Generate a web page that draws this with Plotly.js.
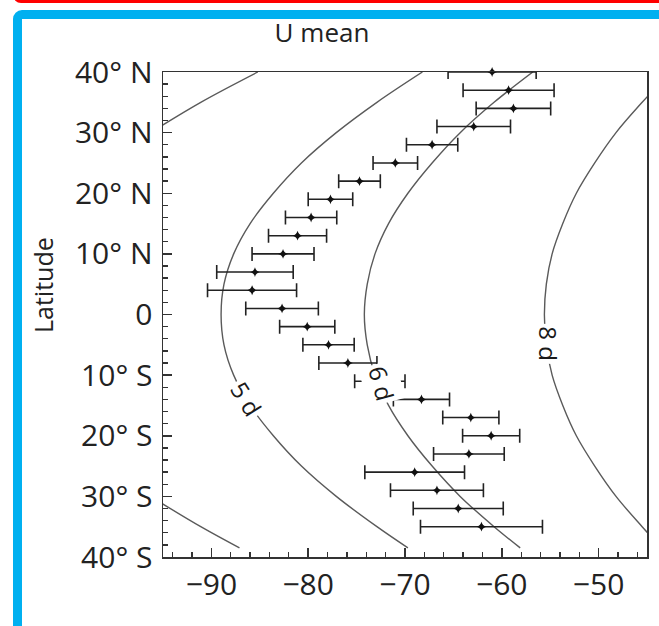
<!DOCTYPE html>
<html><head><meta charset="utf-8">
<script src="https://cdn.plot.ly/plotly-3.0.1.min.js"></script>
<style>
html,body{margin:0;padding:0;background:#fff;width:659px;height:626px;overflow:hidden;}
#redframe{position:absolute;left:13px;top:-20px;width:700px;height:17px;border:3px solid #ff0000;border-radius:8px;}
#blueframe{position:absolute;left:13px;top:10px;width:700px;height:700px;border:9px solid #00b0f0;border-radius:9px;}
#chart{position:absolute;left:0;top:0;width:659px;height:626px;}
</style></head><body>
<div id="redframe"></div><div id="blueframe"></div><div id="chart"></div>
<script>
// Observed mean zonal wind (m/s) by latitude, with error half-widths
const latitudes = [40,37,34,31,28,25,22,19,16,13,10,7,4,1,-2,-5,-8,-11,-14,-17,-20,-23,-26,-29,-32,-35];
const uMean = [-61.0,-59.3,-58.8,-62.9,-67.2,-71.0,-74.7,-77.7,-79.7,-81.1,-82.6,-85.5,-85.8,-82.7,-80.1,-77.9,-75.9,-72.6,-68.3,-63.2,-61.1,-63.4,-69.0,-66.7,-64.5,-62.1];
const uError = [4.55,4.7,3.85,3.8,2.65,2.3,2.15,2.3,2.65,3.0,3.2,3.95,4.6,3.75,2.85,2.65,3.0,2.6,2.9,2.9,2.95,3.65,5.15,4.8,4.65,6.3];

// Rotation-period reference curves
const curveLat = [40,35,30,25,20,15,10,5,0,-5,-10,-15,-20,-25,-30,-35,-38.5];
const curve4d = [-85.2,-91.1,-96.3,null,null,null,null,null,null,null,null,null,null,null,-96.3,-91.1,-87.1];
const curve5d = [-68.2,-72.9,-77.1,-80.7,-83.6,-86.0,-87.7,-88.7,-89.0,-88.7,-87.7,-86.0,-83.6,-80.7,-77.1,-72.9,-69.7];
const curve6d = [-56.8,-60.8,-64.3,-67.2,-69.7,-71.7,-73.1,-73.9,-74.2,-73.9,-73.1,-71.7,-69.7,-67.2,-64.3,-60.8,-58.1];
const curve8d = [-42.6,-45.5,-48.2,-50.4,-52.3,-53.7,-54.8,-55.4,-55.6,-55.4,-54.8,-53.7,-52.3,-50.4,-48.2,-45.5,-43.5];

const curveLabels = ['5 d','6 d','8 d'];
const labelU = [-86.4,-72.4,-55.2];
const labelLat = [-13.9,-11.4,-4.8];
const labelAngle = [58,75,90];

const yTickVals = [40,30,20,10,0,-10,-20,-30,-40];
const yTickText = ['40° N','30° N','20° N','10° N','0','10° S','20° S','30° S','40° S'];
const xTickVals = [-90,-80,-70,-60,-50];

const FONT = '"Open Sans", "Noto Sans", sans-serif';
const curveStyle = {color:'#5a5a5a', width:1.4, shape:'spline'};

const traces = [
  {x:curve4d, y:curveLat, mode:'lines', line:curveStyle, hoverinfo:'skip', showlegend:false},
  {x:curve5d, y:curveLat, mode:'lines', line:curveStyle, hoverinfo:'skip', showlegend:false},
  {x:curve6d, y:curveLat, mode:'lines', line:curveStyle, hoverinfo:'skip', showlegend:false},
  {x:curve8d, y:curveLat, mode:'lines', line:curveStyle, hoverinfo:'skip', showlegend:false},
  {x:uMean, y:latitudes, mode:'markers', cliponaxis:false, showlegend:false,
   marker:{symbol:'star-diamond', size:7, color:'#111111'},
   error_x:{type:'data', array:uError, visible:true, color:'#222222', thickness:1.6, width:7}}
];

const annotations = curveLabels.map((t,i)=>({
  x:labelU[i], y:labelLat[i], xref:'x', yref:'y', text:t, showarrow:false,
  xanchor:'center', yanchor:'middle',
  textangle:labelAngle[i], bgcolor:'#ffffff', borderpad:2,
  font:{family:FONT, size:24, color:'#1a1a1a'}
}));
annotations.push({
  x:(43-163)/484, xref:'paper', y:(557-285)/485, yref:'paper', text:'Latitude', showarrow:false,
  xanchor:'center', yanchor:'middle',
  textangle:-90, font:{family:FONT, size:25, color:'#222222'}
});

const layout = {
  width:659, height:626,
  margin:{l:163, r:12, t:72, b:69},
  paper_bgcolor:'rgba(0,0,0,0)', plot_bgcolor:'#ffffff',
  title:{text:'U mean', x:322/659, xref:'container', xanchor:'center',
         y:1-33/626, yref:'container', yanchor:'middle',
         font:{family:FONT, size:26, color:'#222222'}},
  xaxis:{range:[-95,-45], tickmode:'array', tickvals:xTickVals,
         ticks:'inside', ticklen:9, tickwidth:1.5, tickcolor:'#333',
         showline:true, linecolor:'#333', linewidth:1.5, mirror:true,
         showgrid:false, zeroline:false,
         minor:{ticks:'inside', dtick:2, tick0:0, ticklen:5, tickwidth:1.3, tickcolor:'#333', showgrid:false},
         tickfont:{family:FONT, size:30, color:'#222222'}},
  yaxis:{range:[-40,40], tickmode:'array', tickvals:yTickVals, ticktext:yTickText,
         ticks:'inside', ticklen:9, tickwidth:1.5, tickcolor:'#333',
         showline:true, linecolor:'#333', linewidth:1.5, mirror:true,
         showgrid:false, zeroline:false, ticklabelstandoff:3,
         minor:{ticks:'inside', dtick:2, tick0:0, ticklen:5, tickwidth:1.3, tickcolor:'#333', showgrid:false},
         tickfont:{family:FONT, size:30, color:'#222222'}},
  annotations:annotations,
  showlegend:false
};

Plotly.newPlot('chart', traces, layout, {displayModeBar:false, staticPlot:true});
</script>
</body></html>
